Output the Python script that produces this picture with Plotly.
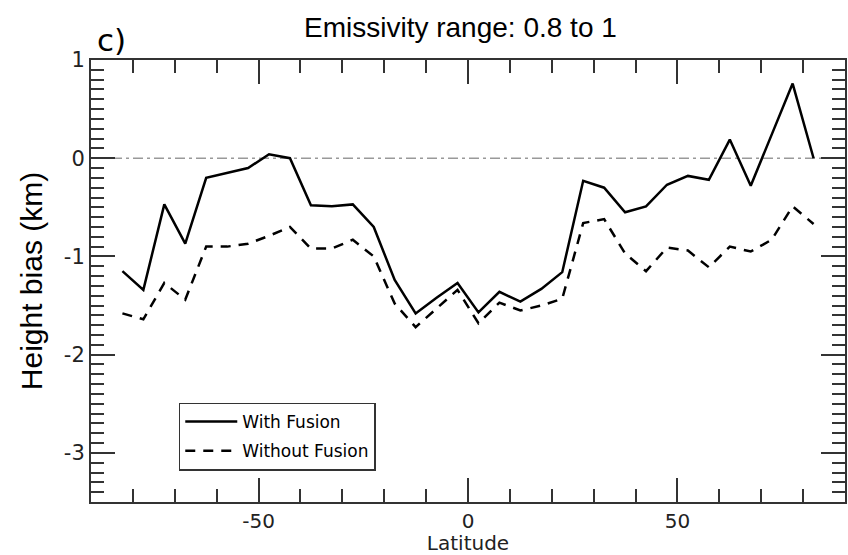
import plotly.graph_objects as go

latitude = [-82.5, -77.5, -72.5, -67.5, -62.5, -57.5, -52.5, -47.5, -42.5, -37.5,
            -32.5, -27.5, -22.5, -17.5, -12.5, -7.5, -2.5, 2.5, 7.5, 12.5,
            17.5, 22.5, 27.5, 32.5, 37.5, 42.5, 47.5, 52.5, 57.5, 62.5,
            67.5, 72.5, 77.5, 82.5]
with_fusion = [-1.15, -1.34, -0.47, -0.87, -0.20, -0.15, -0.10, 0.04, 0.00, -0.48,
               -0.49, -0.47, -0.70, -1.24, -1.58, -1.42, -1.27, -1.57, -1.36, -1.46,
               -1.33, -1.16, -0.23, -0.30, -0.55, -0.49, -0.27, -0.18, -0.22, 0.19,
               -0.28, 0.24, 0.76, 0.00]
without_fusion = [-1.58, -1.64, -1.27, -1.44, -0.90, -0.90, -0.87, -0.79, -0.70, -0.92,
                  -0.92, -0.83, -1.00, -1.48, -1.72, -1.53, -1.34, -1.68, -1.47, -1.55,
                  -1.50, -1.43, -0.66, -0.62, -0.97, -1.15, -0.91, -0.94, -1.11, -0.90,
                  -0.95, -0.83, -0.49, -0.67]

x_tickvals = [-50, 0, 50]
x_ticktext = ["-50", "0", "50"]
y_tickvals = [-3, -2, -1, 0, 1]
y_ticktext = ["-3", "-2", "-1", "0", "1"]
x_minor = list(range(-80, 90, 10))
y_minor = [round(-3.5 + 0.1 * i, 1) for i in range(46)]

fig = go.Figure()
fig.add_trace(go.Scatter(x=latitude, y=with_fusion, mode="lines", name="With Fusion",
                         legendgroup="a",
                         line=dict(color="black", width=2.5)))
fig.add_trace(go.Scatter(x=latitude, y=without_fusion, mode="lines", name="Without Fusion",
                         legendgroup="b",
                         line=dict(color="black", width=2.5, dash="10px,8px")))

fig.add_hline(y=0, line=dict(color="#999999", width=1.5, dash="10px,4px,3px,4px"), layer="below")

axis_common = dict(showgrid=False, zeroline=False, showline=True, linecolor="#333333",
                   linewidth=2, mirror="ticks", ticks="inside", ticklen=24, tickwidth=1.5,
                   tickcolor="#333333")

fig.update_xaxes(range=[-90, 90], tickmode="array", tickvals=x_tickvals, ticktext=x_ticktext,
                 tickfont=dict(family="DejaVu Sans", size=20, color="#222222"),
                 ticklabelstandoff=0,
                 minor=dict(tickmode="array", tickvals=x_minor, ticklen=13, tickwidth=1.5,
                            tickcolor="#333333", ticks="inside"),
                 title=dict(text="Latitude", font=dict(family="DejaVu Sans", size=20, color="#222222"),
                            standoff=5),
                 **axis_common)
fig.update_yaxes(range=[-3.5, 1], tickmode="array", tickvals=y_tickvals, ticktext=y_ticktext,
                 tickfont=dict(family="DejaVu Sans", size=21, color="#222222"),
                 minor=dict(tickmode="array", tickvals=y_minor, ticklen=13, tickwidth=1.5,
                            tickcolor="#333333", ticks="inside"),
                 title=dict(text="Height bias (km)", font=dict(family="Liberation Sans", size=30, color="black"),
                            standoff=12),
                 **axis_common)

fig.update_layout(
    width=848, height=555,
    margin=dict(l=91, r=1, t=60, b=53),
    paper_bgcolor="white", plot_bgcolor="white",
    showlegend=True,
    legend=dict(x=0.1164, y=0.225, xanchor="left", yanchor="top",
                bordercolor="#333333", borderwidth=1.5, bgcolor="white",
                font=dict(family="DejaVu Sans", size=17, color="black"),
                tracegroupgap=4, itemwidth=52, entrywidth=200,
                traceorder="grouped"),
    annotations=[
        dict(text="Emissivity range: 0.8 to 1", x=461, y=27, xref="paper", yref="paper",
             showarrow=False, font=dict(family="Liberation Sans", size=28, color="black")),
        dict(text="c)", x=112, y=40, xref="paper", yref="paper",
             showarrow=False, font=dict(family="DejaVu Sans", size=31, color="black")),
    ],
)

# convert pixel positions of annotations to paper coords
pl, pr, pt, pb = 91, 847, 60, 502
for a in fig.layout.annotations:
    px, py = a.x, a.y
    a.x = (px - pl) / (pr - pl)
    a.y = (pb - py) / (pb - pt)
    a.xanchor = "center"
    a.yanchor = "middle"

fig.write_html("out.html")
